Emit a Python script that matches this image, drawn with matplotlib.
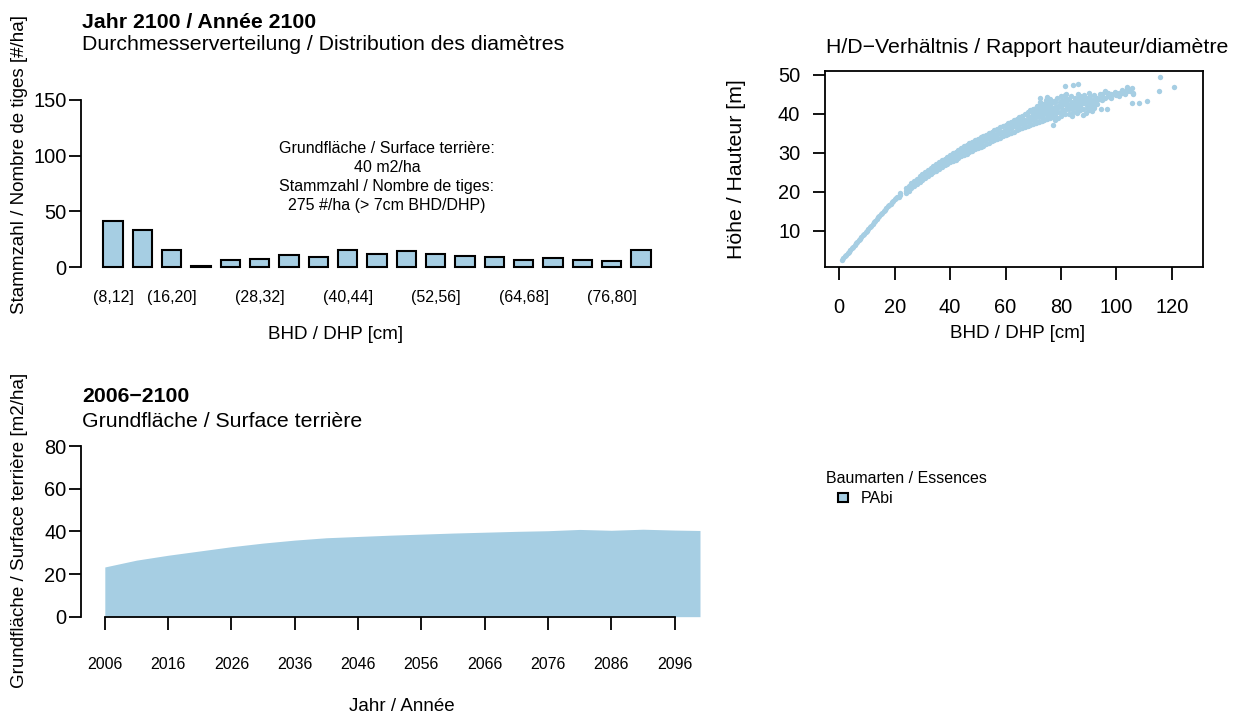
import numpy as np
import matplotlib.pyplot as plt
from matplotlib.patches import Patch

plt.rcParams['font.family'] = ['Liberation Sans', 'DejaVu Sans']

# --- data -------------------------------------------------------------
# stem number per diameter class, year 2100
classes = ['(8,12]', '(12,16]', '(16,20]', '(20,24]', '(24,28]', '(28,32]',
           '(32,36]', '(36,40]', '(40,44]', '(44,48]', '(48,52]', '(52,56]',
           '(56,60]', '(60,64]', '(64,68]', '(68,72]', '(72,76]', '(76,80]',
           '(80,Inf]']
stems = [41, 33, 15, 1, 6, 7, 11, 9, 15, 12, 14, 12, 10, 9, 6, 8, 6, 5, 15]
shown = [0, 2, 5, 8, 11, 14, 17]   # labels R kept after overlap check

# height / diameter of single trees
dbh_core = [1, 2, 3, 4, 5, 6, 7, 8, 9, 10, 11, 12, 13, 14, 15, 16, 17, 18,
            19, 20, 21, 22, 24, 25, 26, 27, 28, 29, 30, 31, 32, 33, 34, 35,
            36, 37, 38, 39, 40, 41, 42, 43, 44, 45, 46, 47, 48, 49, 50, 51,
            52, 53, 54, 55, 56, 57, 58, 59, 60, 61, 62, 63, 64, 65, 66, 67,
            68, 69, 70]
h_core = [2.6, 3.5, 4.3, 5.1, 5.9, 6.8, 7.6, 8.4, 9.3, 10.1, 10.9, 11.7,
          12.6, 13.5, 14.3, 15.0, 15.8, 16.6, 17.4, 18.1, 18.6, 19.1, 20.3,
          20.9, 21.5, 22.1, 22.7, 23.3, 23.8, 24.3, 24.8, 25.3, 25.8, 26.3,
          26.8, 27.2, 27.6, 28.0, 28.5, 28.9, 29.3, 29.7, 30.1, 30.5, 30.9,
          31.3, 31.7, 32.1, 32.5, 32.9, 33.2, 33.5, 33.9, 34.3, 34.6, 34.9,
          35.2, 35.5, 35.8, 36.2, 36.5, 36.8, 37.1, 37.4, 37.7, 37.9, 38.2,
          38.5, 38.8]
dbh_mid = [1.5, 2.5, 3.5, 4.5, 5.5, 6.5, 7.5, 8.5, 9.5, 10.5, 11.5, 12.5,
           13.5, 14.5, 15.5, 16.5, 17.5, 18.5, 19.5, 20.5, 21.5, 24.5, 25.5,
           26.5, 27.5, 28.5, 29.5, 30.5, 31.5, 32.5, 33.5, 34.5, 35.5, 36.5,
           37.5, 38.5, 39.5, 40.5, 41.5, 42.5, 43.5, 44.5, 45.5, 46.5, 47.5,
           48.5, 49.5, 50.5, 51.5, 52.5, 53.5, 54.5, 55.5, 56.5, 57.5, 58.5,
           59.5, 60.5, 61.5, 62.5, 63.5, 64.5, 65.5, 66.5, 67.5, 68.5, 69.5]
h_mid = [3.0, 3.9, 4.7, 5.6, 6.4, 7.2, 8.0, 8.9, 9.6, 10.6, 11.2, 12.2,
         13.0, 13.9, 14.7, 15.3, 16.3, 17.0, 17.6, 18.5, 18.8, 20.5, 21.3,
         21.7, 22.5, 22.9, 23.6, 24.0, 24.6, 25.0, 25.6, 26.0, 26.6, 26.9,
         27.5, 27.8, 28.3, 28.6, 29.2, 29.4, 30.0, 30.2, 30.8, 31.0, 31.6,
         31.8, 32.4, 32.6, 33.1, 33.3, 33.8, 34.0, 34.5, 34.7, 35.1, 35.3,
         35.7, 35.9, 36.4, 36.6, 37.0, 37.2, 37.6, 37.8, 38.1, 38.3, 38.7]
dbh_up = [22, 24, 25, 26, 27, 28, 29, 30, 31, 32, 33, 34, 35, 36, 37, 38,
          39, 40, 41, 42, 43, 44, 45, 46, 47, 48, 49, 50, 51, 52, 53, 54,
          55, 56, 57, 58, 59, 60, 61, 62, 63, 64, 65, 66, 67, 68, 69, 70,
          71, 72, 73, 74, 75, 76]
h_up = [19.7, 20.9, 21.6, 22.2, 22.8, 23.4, 24.0, 24.6, 25.1, 25.6, 26.1,
        26.6, 27.1, 27.6, 28.1, 28.5, 28.9, 29.4, 29.9, 30.3, 30.8, 31.2,
        31.7, 32.1, 32.5, 32.9, 33.3, 33.7, 34.1, 34.4, 34.7, 35.1, 35.5,
        35.9, 36.2, 36.6, 36.9, 37.2, 37.6, 38.0, 38.4, 38.8, 39.2, 39.6,
        40.0, 40.4, 40.9, 41.3, 41.6, 42.0, 42.3, 42.6, 43.0, 43.2]
dbh_low = [24, 25, 26, 27, 28, 29, 30, 31, 32, 33, 34, 35, 36, 37, 38, 39,
           40, 41, 42, 43, 44, 45, 46, 47, 48, 49, 50, 51, 52, 53, 54, 55,
           56, 57, 58, 59, 60, 61, 62, 63, 64, 65, 66, 67, 68, 69, 70, 71,
           72, 73, 74, 75, 76, 77, 78]
h_low = [19.7, 20.3, 20.9, 21.5, 22.0, 22.6, 23.1, 23.6, 24.1, 24.6, 25.1,
         25.5, 25.9, 26.4, 26.8, 27.2, 27.6, 28.0, 28.3, 28.7, 29.1, 29.4,
         29.8, 30.2, 30.5, 30.9, 31.2, 31.6, 31.9, 32.3, 32.6, 33.0, 33.3,
         33.6, 33.9, 34.3, 34.6, 34.9, 35.2, 35.5, 35.8, 36.1, 36.4, 36.7,
         37.0, 37.2, 37.5, 37.8, 38.0, 38.3, 38.5, 38.8, 39.0, 39.3, 39.5]
dbh_big = [70, 71, 71, 72, 72.3, 73, 73, 74, 74.9, 75, 75, 76, 76, 76, 77,
           77.3, 78, 78, 78, 79, 79, 80, 80, 80, 81, 81.5, 81.5, 82, 82,
           82.1, 83, 83, 84, 84, 84.3, 85, 85.7, 86, 86, 86.1, 87, 87, 88,
           88, 88.1, 89, 89, 90, 90, 90, 91, 91.4, 91.7, 92, 92, 93, 94,
           94.4, 94.8, 95, 96, 96.6, 96.6, 97.8, 98, 99.6, 99.6, 101, 102,
           103.8, 104, 105, 105.5, 106, 105.6, 108.2, 110.9, 115.3, 115.8,
           121, 70, 71, 72, 73, 74, 75, 76, 77, 78, 79, 80, 81, 82, 83, 84,
           85, 86, 87, 88, 89, 90, 91, 92, 93, 94, 95, 96, 97, 98, 100, 102,
           103, 104, 106]
h_big = [40.5, 40.0, 38.2, 39.2, 44.0, 41.5, 39.5, 38.6, 44.4, 40.8, 42.2,
         42.5, 39.5, 43.8, 41.0, 37.2, 43.0, 40.2, 38.5, 41.8, 39.0, 44.5,
         40.5, 42.0, 42.8, 47.3, 44.9, 41.2, 45.0, 42.3, 43.8, 40.0, 41.5,
         39.5, 47.5, 44.0, 40.3, 42.5, 45.0, 47.6, 44.6, 41.0, 43.2, 39.8,
         42.8, 40.2, 44.0, 45.5, 42.0, 41.0, 43.0, 40.8, 43.6, 44.8, 42.0,
         42.5, 43.8, 41.2, 44.6, 45.2, 44.2, 45.3, 41.2, 44.4, 45.0, 45.7,
         45.1, 45.4, 45.5, 47.0, 45.8, 45.9, 46.6, 45.2, 42.9, 42.9, 43.2,
         46.0, 49.4, 46.9, 39.8, 39.9, 40.2, 40.5, 40.3, 41.0, 41.2, 41.5,
         41.3, 42.0, 41.8, 42.5, 43.2, 42.0, 43.0, 42.2, 43.6, 42.7, 44.2,
         43.5, 44.0, 41.8, 43.4, 44.2, 45.0, 43.5, 45.8, 45.4, 44.0, 44.8,
         46.2, 45.2, 46.4, 45.5]
dbh_fill = [62, 63, 64, 65, 66, 67, 68, 69, 70, 70.5, 71, 71.5, 72, 72.5,
            73, 73.5, 74, 74.5, 75, 75.5, 76, 76.5, 77, 77.5, 78, 78.5, 79,
            79.5, 80, 80.5, 81, 81.5, 82, 82.5, 83, 83.5, 84, 84.5, 85, 85.5,
            86, 86.5, 87, 87.5, 88, 88.5, 89, 89.5, 90, 90.5, 91, 92, 93, 95,
            97, 99, 100, 101, 103]
h_fill = [37.5, 38.0, 37.4, 38.6, 39.0, 38.4, 39.5, 39.2, 40.2, 41.0, 39.4,
          42.0, 41.0, 43.0, 40.0, 42.5, 41.5, 43.5, 39.8, 41.8, 40.5, 42.8,
          39.8, 43.2, 41.8, 44.2, 40.5, 43.0, 39.5, 43.5, 41.0, 40.0, 44.0,
          42.6, 41.2, 44.5, 42.5, 40.6, 43.0, 41.5, 40.8, 44.0, 42.0, 43.0,
          41.2, 44.8, 42.5, 41.5, 43.2, 44.5, 42.5, 41.5, 43.5, 44.0, 44.5,
          45.0, 45.5, 44.6, 45.5]

# basal area over time
years = [2006, 2011, 2016, 2021, 2026, 2031, 2036, 2041, 2046, 2051, 2056,
         2061, 2066, 2071, 2076, 2081, 2086, 2091, 2096, 2100]
basal = [23.3, 26.5, 28.8, 30.8, 32.8, 34.5, 35.9, 37.0, 37.6, 38.2, 38.7,
         39.2, 39.6, 40.0, 40.3, 40.9, 40.5, 41.0, 40.6, 40.4]

col = '#A6CEE3'
W, H = 1239, 715
fig = plt.figure(figsize=(W / 100, H / 100), dpi=100)


def px_axes(left, top, right, bottom):
    return fig.add_axes([left / W, 1 - bottom / H,
                         (right - left) / W, (bottom - top) / H])


def px_text(x, y, s, **kw):
    fig.text(x / W, 1 - y / H, s, **kw)


lw = 1.3
title, big, lab, small = 15.3, 14.4, 13.5, 11.5

# --- diameter distribution -------------------------------------------
ax1 = px_axes(81.4, 93.3, 672.6, 273.7)
pos = 1.0 + 1.5 * np.arange(len(stems))
ax1.bar(pos, stems, width=1, color=col, edgecolor='black', linewidth=1.5)
ax1.set_xlim(-0.62, 29.62)
ax1.set_ylim(-6, 156)
for s in ['top', 'right', 'bottom']:
    ax1.spines[s].set_visible(False)
ax1.spines['left'].set_bounds(0, 150)
ax1.spines['left'].set_linewidth(lw)
ax1.set_yticks([0, 50, 100, 150])
ax1.tick_params(axis='y', length=9, width=lw, pad=1.5, labelsize=big)
ax1.set_xticks(pos[shown])
ax1.set_xticklabels([classes[i] for i in shown])
ax1.tick_params(axis='x', length=0, pad=12, labelsize=small)

px_text(82, 27.5, 'Jahr 2100 / Année 2100', fontsize=title,
        fontweight='bold', va='baseline')
px_text(82, 50.5, 'Durchmesserverteilung / Distribution des diamètres',
        fontsize=title, va='baseline')
px_text(20, 164, 'Stammzahl / Nombre de tiges [#/ha]', fontsize=lab,
        rotation=90, ha='center', va='center')
px_text(336, 339, 'BHD / DHP [cm]', fontsize=lab, ha='center', va='baseline')
info = ['Grundfläche / Surface terrière:', '40 m2/ha',
        'Stammzahl / Nombre de tiges:', '275 #/ha (> 7cm BHD/DHP)']
for i, line in enumerate(info):
    px_text(387, 153 + 19 * i, line, fontsize=small, ha='center',
            va='baseline')

# --- height / diameter -------------------------------------------------
ax2 = px_axes(825.3, 70.7, 1203.3, 267.3)
for d, h in [(dbh_core, h_core), (dbh_mid, h_mid), (dbh_up, h_up),
             (dbh_low, h_low), (dbh_big, h_big), (dbh_fill, h_fill)]:
    ax2.scatter(d, h, s=15, color=col, linewidths=0)
ax2.set_xlim(-5.05, 131.4)
ax2.set_ylim(0.67, 51.1)
for s in ax2.spines.values():
    s.set_linewidth(lw)
ax2.set_xticks(range(0, 121, 20))
ax2.set_yticks(range(10, 51, 10))
ax2.tick_params(axis='both', length=9, width=lw, labelsize=big)
ax2.tick_params(axis='y', pad=9)
ax2.tick_params(axis='x', pad=13)
px_text(1027, 52.8, 'H/D\u2212Verhältnis / Rapport hauteur/diamètre',
        fontsize=title, ha='center', va='baseline')
px_text(737, 169.5, 'Höhe / Hauteur [m]', fontsize=title, rotation=90,
        ha='center', va='center')
px_text(1018, 338, 'BHD / DHP [cm]', fontsize=lab, ha='center',
        va='baseline')

# --- basal area over time ---------------------------------------------
ax3 = px_axes(81, 439.2, 723.8, 623.5)
ax3.fill_between(years, 0, basal, color=col, linewidth=0)
ax3.set_xlim(2002.24, 2103.76)
ax3.set_ylim(-3.2, 83.2)
for s in ['top', 'right']:
    ax3.spines[s].set_visible(False)
ax3.spines['left'].set_bounds(0, 80)
ax3.spines['bottom'].set_position(('data', 0))
ax3.spines['bottom'].set_bounds(2006, 2096)
ax3.spines['left'].set_linewidth(lw)
ax3.spines['bottom'].set_linewidth(lw)
ax3.set_yticks(range(0, 81, 20))
ax3.set_xticks(range(2006, 2097, 10))
ax3.tick_params(axis='y', length=9, width=lw, pad=1.5, labelsize=big)
ax3.tick_params(axis='x', length=9, width=lw, pad=20, labelsize=small)

px_text(82, 402, '2006\u22122100', fontsize=title, fontweight='bold',
        va='baseline')
px_text(82, 427, 'Grundfläche / Surface terrière', fontsize=title,
        va='baseline')
px_text(20, 530, 'Grundfläche / Surface terrière [m2/ha]', fontsize=lab,
        rotation=90, ha='center', va='center')
px_text(402, 711, 'Jahr / Année', fontsize=lab, ha='center', va='baseline')

# --- legend -------------------------------------------------------------
px_text(826, 483, 'Baumarten / Essences', fontsize=small, va='baseline')
fig.legend(handles=[Patch(facecolor=col, edgecolor='black', linewidth=1.5)],
           labels=['PAbi'], loc='upper left',
           bbox_to_anchor=(838 / W, 1 - 491 / H),
           frameon=False, fontsize=small, handlelength=0.65,
           handleheight=0.55, handletextpad=0.8, borderpad=0,
           borderaxespad=0)

fig.savefig('out.png', dpi=100)
